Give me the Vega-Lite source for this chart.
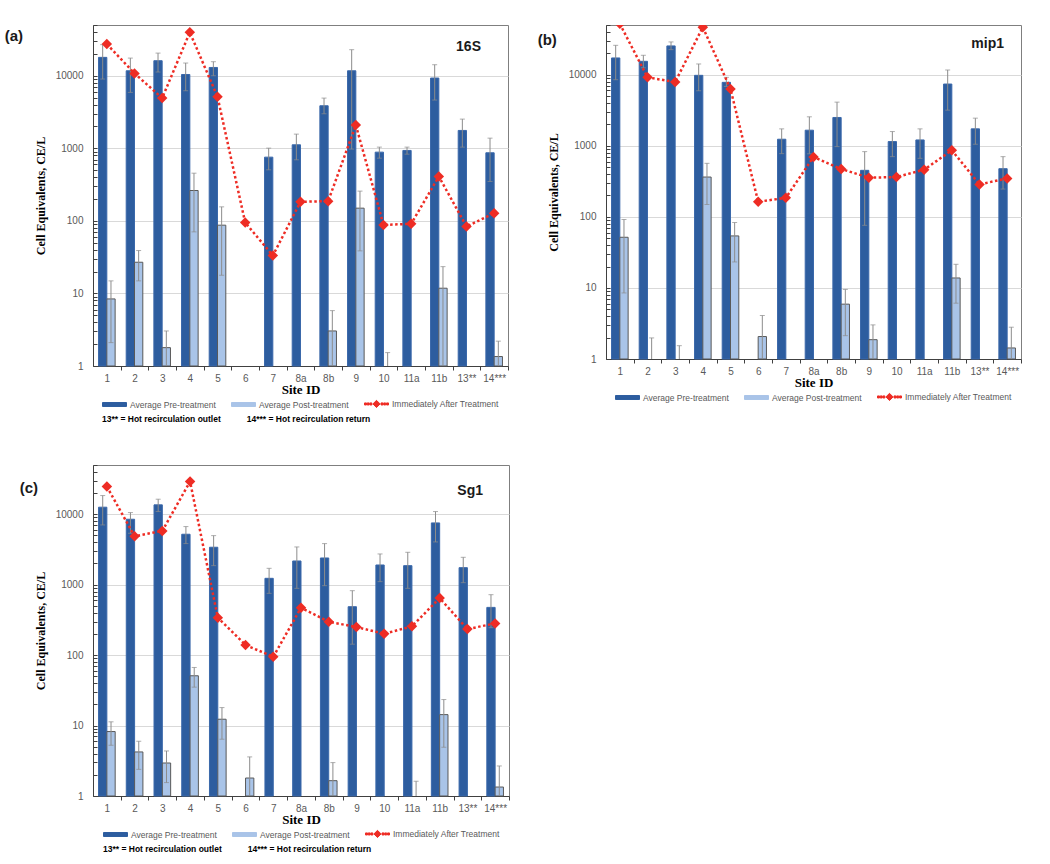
{
 "$schema": "https://vega.github.io/schema/vega-lite/v6.json",
 "padding": {"left": 4, "top": 19, "right": 5, "bottom": 4},
 "background": "white",
 "config": {
  "font": "Liberation Sans",
  "view": {"stroke": "#7F7F7F", "strokeWidth": 1},
  "title": {"font": "Liberation Sans", "fontWeight": "bold", "color": "#1A1A1A"},
  "legend": {"layout": {"bottom": {"anchor": "middle"}}}
 },
 "datasets": {
  "a": [
   {"site":"1","series":"pre","value":17900,"low":9000,"high":26800},
   {"site":"1","series":"post","value":8.4,"low":2.1,"high":14.9},
   {"site":"1","series":"after","value":27300},
   {"site":"2","series":"pre","value":11700,"low":5890,"high":17500},
   {"site":"2","series":"post","value":26.9,"low":14.9,"high":39},
   {"site":"2","series":"after","value":10770},
   {"site":"3","series":"pre","value":16100,"low":11240,"high":20500},
   {"site":"3","series":"post","value":1.79,"low":1,"high":3.04},
   {"site":"3","series":"after","value":4920},
   {"site":"4","series":"pre","value":10400,"low":6210,"high":14960},
   {"site":"4","series":"post","value":262,"low":70.5,"high":454},
   {"site":"4","series":"after","value":39600},
   {"site":"5","series":"pre","value":13000,"low":10000,"high":15600},
   {"site":"5","series":"post","value":87.2,"low":17.8,"high":156},
   {"site":"5","series":"after","value":5130},
   {"site":"6","series":"after","value":94.8},
   {"site":"7","series":"pre","value":755,"low":505,"high":1005},
   {"site":"7","series":"after","value":33.2},
   {"site":"8a","series":"pre","value":1117,"low":694,"high":1568},
   {"site":"8a","series":"after","value":183},
   {"site":"8b","series":"pre","value":3855,"low":2990,"high":4920},
   {"site":"8b","series":"post","value":3.04,"low":1,"high":5.8},
   {"site":"8b","series":"after","value":187},
   {"site":"9","series":"pre","value":11700,"low":975,"high":22840},
   {"site":"9","series":"post","value":149.6,"low":38.6,"high":257},
   {"site":"9","series":"after","value":2088},
   {"site":"10","series":"pre","value":885,"low":731,"high":1038},
   {"site":"10","series":"post","value":null,"low":1,"high":1.53},
   {"site":"10","series":"after","value":88},
   {"site":"11a","series":"pre","value":934,"low":830,"high":1038},
   {"site":"11a","series":"after","value":91},
   {"site":"11b","series":"pre","value":9290,"low":4620,"high":14180},
   {"site":"11b","series":"post","value":11.8,"low":1,"high":23.4},
   {"site":"11b","series":"after","value":409},
   {"site":"13**","series":"pre","value":1762,"low":1038,"high":2525},
   {"site":"13**","series":"after","value":83.5},
   {"site":"14***","series":"pre","value":867,"low":349,"high":1380},
   {"site":"14***","series":"post","value":1.35,"low":1,"high":2.2},
   {"site":"14***","series":"after","value":127.6}
  ],
  "b": [
   {"site":"1","series":"pre","value":17200,"low":8500,"high":25900},
   {"site":"1","series":"post","value":51.6,"low":8.5,"high":91.7},
   {"site":"1","series":"after","value":52000},
   {"site":"2","series":"pre","value":15420,"low":12500,"high":18750},
   {"site":"2","series":"post","value":null,"low":1,"high":1.98},
   {"site":"2","series":"after","value":9170},
   {"site":"3","series":"pre","value":25400,"low":22500,"high":28900},
   {"site":"3","series":"post","value":null,"low":1,"high":1.54},
   {"site":"3","series":"after","value":7880},
   {"site":"4","series":"pre","value":9790,"low":5940,"high":14150},
   {"site":"4","series":"post","value":363,"low":149,"high":566},
   {"site":"4","series":"after","value":46600},
   {"site":"5","series":"pre","value":7800,"low":6840,"high":9170},
   {"site":"5","series":"post","value":53.9,"low":23.2,"high":83.2},
   {"site":"5","series":"after","value":6280},
   {"site":"6","series":"post","value":2.07,"low":1,"high":4.09},
   {"site":"6","series":"after","value":163},
   {"site":"7","series":"pre","value":1236,"low":775,"high":1729},
   {"site":"7","series":"after","value":185},
   {"site":"8a","series":"pre","value":1656,"low":770,"high":2555},
   {"site":"8a","series":"after","value":696},
   {"site":"8b","series":"pre","value":2500,"low":973,"high":4110},
   {"site":"8b","series":"post","value":5.91,"low":2.13,"high":9.52},
   {"site":"8b","series":"after","value":471},
   {"site":"9","series":"pre","value":451,"low":76,"high":827},
   {"site":"9","series":"post","value":1.87,"low":1,"high":3.02},
   {"site":"9","series":"after","value":355},
   {"site":"10","series":"pre","value":1145,"low":703,"high":1585},
   {"site":"10","series":"after","value":363},
   {"site":"11a","series":"pre","value":1208,"low":666,"high":1729},
   {"site":"11a","series":"after","value":461},
   {"site":"11b","series":"pre","value":7385,"low":3170,"high":11640},
   {"site":"11b","series":"post","value":13.8,"low":6.1,"high":21.5},
   {"site":"11b","series":"after","value":864},
   {"site":"13**","series":"pre","value":1729,"low":1050,"high":2445},
   {"site":"13**","series":"after","value":286},
   {"site":"14***","series":"pre","value":476,"low":246,"high":703},
   {"site":"14***","series":"post","value":1.43,"low":1,"high":2.8},
   {"site":"14***","series":"after","value":347}
  ],
  "c": [
   {"site":"1","series":"pre","value":12590,"low":7050,"high":18420},
   {"site":"1","series":"post","value":8.22,"low":5.25,"high":11.3},
   {"site":"1","series":"after","value":24720},
   {"site":"2","series":"pre","value":8490,"low":5370,"high":10560},
   {"site":"2","series":"post","value":4.22,"low":2.39,"high":5.99},
   {"site":"2","series":"after","value":4865},
   {"site":"3","series":"pre","value":13580,"low":10920,"high":16340},
   {"site":"3","series":"post","value":2.94,"low":1.55,"high":4.36},
   {"site":"3","series":"after","value":5800},
   {"site":"4","series":"pre","value":5200,"low":3830,"high":6680},
   {"site":"4","series":"post","value":50.9,"low":35.1,"high":66.8},
   {"site":"4","series":"after","value":29130},
   {"site":"5","series":"pre","value":3400,"low":1863,"high":4970},
   {"site":"5","series":"post","value":12.3,"low":6.4,"high":18.0},
   {"site":"5","series":"after","value":340},
   {"site":"6","series":"post","value":1.8,"low":1,"high":3.59},
   {"site":"6","series":"after","value":139},
   {"site":"7","series":"pre","value":1231,"low":753,"high":1707},
   {"site":"7","series":"after","value":94.7},
   {"site":"8a","series":"pre","value":2170,"low":887,"high":3433},
   {"site":"8a","series":"after","value":471},
   {"site":"8b","series":"pre","value":2393,"low":968,"high":3830},
   {"site":"8b","series":"post","value":1.65,"low":1,"high":2.98},
   {"site":"8b","series":"after","value":298},
   {"site":"9","series":"pre","value":487,"low":143,"high":822},
   {"site":"9","series":"after","value":250},
   {"site":"10","series":"pre","value":1903,"low":1104,"high":2730},
   {"site":"10","series":"after","value":201},
   {"site":"11a","series":"pre","value":1863,"low":887,"high":2883},
   {"site":"11a","series":"post","value":null,"low":1,"high":1.62},
   {"site":"11a","series":"after","value":256},
   {"site":"11b","series":"pre","value":7530,"low":4043,"high":10920},
   {"site":"11b","series":"post","value":14.3,"low":4.92,"high":23.4},
   {"site":"11b","series":"after","value":646},
   {"site":"13**","series":"pre","value":1745,"low":1068,"high":2447},
   {"site":"13**","series":"after","value":234},
   {"site":"14***","series":"pre","value":476,"low":245,"high":721},
   {"site":"14***","series":"post","value":1.34,"low":1,"high":2.67},
   {"site":"14***","series":"after","value":282}
  ]
 },
 "spacing": 34,
 "resolve": {"scale": {"color": "independent", "xOffset": "independent"}, "legend": {"color": "independent"}},
 "vconcat": [
  {
   "spacing": 28,
   "resolve": {"scale": {"color": "independent", "xOffset": "independent"}, "legend": {"color": "independent"}},
   "hconcat": [
    {
     "title": {"text": "(a)", "anchor": "start", "frame": "bounds", "dx": -29, "offset": -24, "fontSize": 15},
     "resolve": {"scale": {"color": "independent", "xOffset": "independent"}, "legend": {"color": "independent"}},
     "vconcat": [
      {
       "width": 415, "height": 341,
       "data": {"name": "a"},
       "title": {"text": "16S", "anchor": "end", "frame": "group", "dx": -27, "offset": -34, "fontSize": 14},
       "encoding": {
        "x": {"field": "site", "type": "nominal", "title": "Site ID",
         "scale": {"domain": ["1","2","3","4","5","6","7","8a","8b","9","10","11a","11b","13**","14***"], "paddingInner": 0.4, "paddingOuter": 0.2},
         "axis": {"labelAngle": 0, "labelFontSize": 10, "labelColor": "#595959", "labelPadding": 3, "tickSize": 4, "tickColor": "#404040", "tickOffset": 13.83, "labelOffset": -13.83, "domainColor": "#404040", "grid": false, "titleFont": "Liberation Serif", "titleFontWeight": "bold", "titleFontSize": 13, "titleColor": "#000000", "titlePadding": 0}}
       },
       "layer": [
        {
         "transform": [{"filter": "datum.series !== 'after'"}],
         "mark": {"type": "bar", "strokeWidth": 1},
         "encoding": {
          "xOffset": {"field": "series", "type": "nominal", "scale": {"domain": ["pre","post"], "paddingInner": 0, "paddingOuter": 0}},
          "y": {"field": "value", "type": "quantitative", "title": "Cell Equivalents, CE/L",
           "scale": {"type": "log", "domain": [1, 50000], "nice": false},
           "axis": {"values": [1,2,3,4,5,6,7,8,9,10,20,30,40,50,60,70,80,90,100,200,300,400,500,600,700,800,900,1000,2000,3000,4000,5000,6000,7000,8000,9000,10000,20000,30000,40000,50000],
            "format": "d", "labelExpr": "indexof([1,10,100,1000,10000], datum.value) >= 0 ? datum.label : ''", "labelOverlap": false,
            "tickSize": -4, "tickColor": "#404040", "labelPadding": 14, "labelFontSize": 10, "labelColor": "#595959",
            "gridColor": "#D9D9D9", "gridOpacity": {"condition": {"test": "indexof([10,100,1000,10000], datum.value) >= 0", "value": 1}, "value": 0},
            "domainColor": "#404040", "titleFont": "Liberation Serif", "titleFontWeight": "bold", "titleFontSize": 12, "titleColor": "#000000", "titlePadding": 8}},
          "y2": {"datum": 1},
          "color": {"field": "series", "type": "nominal",
           "scale": {"domain": ["pre","post","after"], "range": ["#2D5D9F","#A9C4E8","#EE2C24"]},
           "legend": {"orient": "bottom", "direction": "horizontal", "offset": 1,
            "title": "13** = Hot recirculation outlet\u00a0\u00a0\u00a0\u00a0\u00a0\u00a0\u00a0\u00a0\u00a0\u00a0\u00a014*** = Hot recirculation return",
            "titleOrient": "bottom", "titleAnchor": "start", "titlePadding": 5, "titleFontSize": 8.5, "titleFontWeight": "bold", "titleColor": "#000000", "titleLimit": 500,
            "labelExpr": "datum.value === 'pre' ? 'Average Pre-treatment' : datum.value === 'post' ? 'Average Post-treatment' : 'Immediately After Treatment'",
            "labelFontSize": 8.5, "labelColor": "#595959", "labelOffset": 15, "labelLimit": 200, "columnPadding": 13, "symbolSize": 144,
            "symbolType": "M-1,-0.33H3V0.33H-1Z",
            "encoding": {"symbols": {
             "shape": {"condition": {"test": "datum.value === 'after'", "value": "M-1,-0.17h0.33v0.34h-0.33z M-0.55,-0.17h0.33v0.34h-0.33z M-0.1,-0.17h0.33v0.34h-0.33z M1,-0.6L1.6,0L1,0.6L0.4,0z M1.75,-0.17h0.33v0.34h-0.33z M2.2,-0.17h0.33v0.34h-0.33z M2.67,-0.17h0.33v0.34h-0.33z"}, "value": "M-1,-0.33H3V0.33H-1Z"},
             "stroke": {"condition": {"test": "datum.value === 'post'", "value": "#595959"}, "value": "transparent"},
             "strokeWidth": {"value": 1}}}}},
          "stroke": {"condition": {"test": "datum.series === 'post'", "value": "#595959"}, "value": "#3A68AA"}
         }
        },
        {
         "transform": [{"filter": "isValid(datum.high)"}],
         "mark": {"type": "rule", "color": "#8C8C8C", "strokeWidth": 1},
         "encoding": {
          "xOffset": {"field": "series", "type": "nominal", "scale": {"domain": ["pre","post"], "paddingInner": 0, "paddingOuter": 0}},
          "y": {"field": "low", "type": "quantitative", "title": "Cell Equivalents, CE/L"},
          "y2": {"field": "high"}
         }
        },
        {
         "transform": [{"filter": "isValid(datum.high)"}],
         "mark": {"type": "tick", "color": "#8C8C8C", "thickness": 1, "size": 5},
         "encoding": {
          "xOffset": {"field": "series", "type": "nominal", "scale": {"domain": ["pre","post"], "paddingInner": 0, "paddingOuter": 0}},
          "y": {"field": "high", "type": "quantitative", "title": "Cell Equivalents, CE/L"}
         }
        },
        {
         "transform": [{"filter": "isValid(datum.low) && datum.low > 1"}],
         "mark": {"type": "tick", "color": "#8C8C8C", "thickness": 1, "size": 5},
         "encoding": {
          "xOffset": {"field": "series", "type": "nominal", "scale": {"domain": ["pre","post"], "paddingInner": 0, "paddingOuter": 0}},
          "y": {"field": "low", "type": "quantitative", "title": "Cell Equivalents, CE/L"}
         }
        },
        {
         "transform": [{"filter": "datum.series === 'after'"}],
         "mark": {"type": "line", "strokeDash": [2.5, 2.5], "strokeWidth": 2.5, "clip": true},
         "encoding": {
          "y": {"field": "value", "type": "quantitative", "title": "Cell Equivalents, CE/L"},
          "color": {"field": "series", "type": "nominal"}
         }
        },
        {
         "transform": [{"filter": "datum.series === 'after'"}],
         "mark": {"type": "point", "shape": "diamond", "filled": true, "size": 110, "opacity": 1, "clip": true},
         "encoding": {
          "y": {"field": "value", "type": "quantitative", "title": "Cell Equivalents, CE/L"},
          "color": {"field": "series", "type": "nominal"}
         }
        }
       ]
      }
     ]
    },
    {
     "title": {"text": "(b)", "anchor": "start", "frame": "bounds", "dx": -9, "offset": -28, "fontSize": 15},
     "resolve": {"scale": {"color": "independent", "xOffset": "independent"}, "legend": {"color": "independent"}},
     "vconcat": [
      {
       "width": 415, "height": 334,
       "data": {"name": "b"},
       "title": {"text": "mip1", "anchor": "end", "frame": "group", "dx": -17, "offset": -31, "fontSize": 14},
       "encoding": {
        "x": {"field": "site", "type": "nominal", "title": "Site ID",
         "scale": {"domain": ["1","2","3","4","5","6","7","8a","8b","9","10","11a","11b","13**","14***"], "paddingInner": 0.4, "paddingOuter": 0.2},
         "axis": {"labelAngle": 0, "labelFontSize": 10, "labelColor": "#595959", "labelPadding": 3, "tickSize": 4, "tickColor": "#404040", "tickOffset": 13.83, "labelOffset": -13.83, "domainColor": "#404040", "grid": false, "titleFont": "Liberation Serif", "titleFontWeight": "bold", "titleFontSize": 13, "titleColor": "#000000", "titlePadding": 0}}
       },
       "layer": [
        {
         "transform": [{"filter": "datum.series !== 'after'"}],
         "mark": {"type": "bar", "strokeWidth": 1},
         "encoding": {
          "xOffset": {"field": "series", "type": "nominal", "scale": {"domain": ["pre","post"], "paddingInner": 0, "paddingOuter": 0}},
          "y": {"field": "value", "type": "quantitative", "title": "Cell Equivalents, CE/L",
           "scale": {"type": "log", "domain": [1, 50000], "nice": false},
           "axis": {"values": [1,2,3,4,5,6,7,8,9,10,20,30,40,50,60,70,80,90,100,200,300,400,500,600,700,800,900,1000,2000,3000,4000,5000,6000,7000,8000,9000,10000,20000,30000,40000,50000],
            "format": "d", "labelExpr": "indexof([1,10,100,1000,10000], datum.value) >= 0 ? datum.label : ''", "labelOverlap": false,
            "tickSize": -4, "tickColor": "#404040", "labelPadding": 14, "labelFontSize": 10, "labelColor": "#595959",
            "gridColor": "#D9D9D9", "gridOpacity": {"condition": {"test": "indexof([10,100,1000,10000], datum.value) >= 0", "value": 1}, "value": 0},
            "domainColor": "#404040", "titleFont": "Liberation Serif", "titleFontWeight": "bold", "titleFontSize": 12, "titleColor": "#000000", "titlePadding": 8}},
          "y2": {"datum": 1},
          "color": {"field": "series", "type": "nominal",
           "scale": {"domain": ["pre","post","after"], "range": ["#2D5D9F","#A9C4E8","#EE2C24"]},
           "legend": {"orient": "bottom", "direction": "horizontal", "offset": 1, "title": null,
            "labelExpr": "datum.value === 'pre' ? 'Average Pre-treatment' : datum.value === 'post' ? 'Average Post-treatment' : 'Immediately After Treatment'",
            "labelFontSize": 8.5, "labelColor": "#595959", "labelOffset": 15, "labelLimit": 200, "columnPadding": 13, "symbolSize": 144,
            "symbolType": "M-1,-0.33H3V0.33H-1Z",
            "encoding": {"symbols": {
             "shape": {"condition": {"test": "datum.value === 'after'", "value": "M-1,-0.17h0.33v0.34h-0.33z M-0.55,-0.17h0.33v0.34h-0.33z M-0.1,-0.17h0.33v0.34h-0.33z M1,-0.6L1.6,0L1,0.6L0.4,0z M1.75,-0.17h0.33v0.34h-0.33z M2.2,-0.17h0.33v0.34h-0.33z M2.67,-0.17h0.33v0.34h-0.33z"}, "value": "M-1,-0.33H3V0.33H-1Z"},
             "stroke": {"condition": {"test": "datum.value === 'post'", "value": "#595959"}, "value": "transparent"},
             "strokeWidth": {"value": 1}}}}},
          "stroke": {"condition": {"test": "datum.series === 'post'", "value": "#595959"}, "value": "#3A68AA"}
         }
        },
        {
         "transform": [{"filter": "isValid(datum.high)"}],
         "mark": {"type": "rule", "color": "#8C8C8C", "strokeWidth": 1},
         "encoding": {
          "xOffset": {"field": "series", "type": "nominal", "scale": {"domain": ["pre","post"], "paddingInner": 0, "paddingOuter": 0}},
          "y": {"field": "low", "type": "quantitative", "title": "Cell Equivalents, CE/L"},
          "y2": {"field": "high"}
         }
        },
        {
         "transform": [{"filter": "isValid(datum.high)"}],
         "mark": {"type": "tick", "color": "#8C8C8C", "thickness": 1, "size": 5},
         "encoding": {
          "xOffset": {"field": "series", "type": "nominal", "scale": {"domain": ["pre","post"], "paddingInner": 0, "paddingOuter": 0}},
          "y": {"field": "high", "type": "quantitative", "title": "Cell Equivalents, CE/L"}
         }
        },
        {
         "transform": [{"filter": "isValid(datum.low) && datum.low > 1"}],
         "mark": {"type": "tick", "color": "#8C8C8C", "thickness": 1, "size": 5},
         "encoding": {
          "xOffset": {"field": "series", "type": "nominal", "scale": {"domain": ["pre","post"], "paddingInner": 0, "paddingOuter": 0}},
          "y": {"field": "low", "type": "quantitative", "title": "Cell Equivalents, CE/L"}
         }
        },
        {
         "transform": [{"filter": "datum.series === 'after'"}],
         "mark": {"type": "line", "strokeDash": [2.5, 2.5], "strokeWidth": 2.5, "clip": true},
         "encoding": {
          "y": {"field": "value", "type": "quantitative", "title": "Cell Equivalents, CE/L"},
          "color": {"field": "series", "type": "nominal"}
         }
        },
        {
         "transform": [{"filter": "datum.series === 'after'"}],
         "mark": {"type": "point", "shape": "diamond", "filled": true, "size": 110, "opacity": 1, "clip": true},
         "encoding": {
          "y": {"field": "value", "type": "quantitative", "title": "Cell Equivalents, CE/L"},
          "color": {"field": "series", "type": "nominal"}
         }
        }
       ]
      }
     ]
    }
   ]
  },
  {
   "title": {"text": "(c)", "anchor": "start", "frame": "bounds", "dx": -14, "offset": -36, "fontSize": 15},
   "resolve": {"scale": {"color": "independent", "xOffset": "independent"}, "legend": {"color": "independent"}},
   "vconcat": [
    {
     "width": 416, "height": 331,
     "data": {"name": "c"},
     "title": {"text": "Sg1", "anchor": "end", "frame": "group", "dx": -26, "offset": -38, "fontSize": 14},
     "encoding": {
      "x": {"field": "site", "type": "nominal", "title": "Site ID",
       "scale": {"domain": ["1","2","3","4","5","6","7","8a","8b","9","10","11a","11b","13**","14***"], "paddingInner": 0.4, "paddingOuter": 0.2},
       "axis": {"labelAngle": 0, "labelFontSize": 10, "labelColor": "#595959", "labelPadding": 3, "tickSize": 4, "tickColor": "#404040", "tickOffset": 13.87, "labelOffset": -13.87, "domainColor": "#404040", "grid": false, "titleFont": "Liberation Serif", "titleFontWeight": "bold", "titleFontSize": 13, "titleColor": "#000000", "titlePadding": 0}}
     },
     "layer": [
      {
       "transform": [{"filter": "datum.series !== 'after'"}],
       "mark": {"type": "bar", "strokeWidth": 1},
       "encoding": {
        "xOffset": {"field": "series", "type": "nominal", "scale": {"domain": ["pre","post"], "paddingInner": 0, "paddingOuter": 0}},
        "y": {"field": "value", "type": "quantitative", "title": "Cell Equivalents, CE/L",
         "scale": {"type": "log", "domain": [1, 50000], "nice": false},
         "axis": {"values": [1,2,3,4,5,6,7,8,9,10,20,30,40,50,60,70,80,90,100,200,300,400,500,600,700,800,900,1000,2000,3000,4000,5000,6000,7000,8000,9000,10000,20000,30000,40000,50000],
          "format": "d", "labelExpr": "indexof([1,10,100,1000,10000], datum.value) >= 0 ? datum.label : ''", "labelOverlap": false,
          "tickSize": -4, "tickColor": "#404040", "labelPadding": 14, "labelFontSize": 10, "labelColor": "#595959",
          "gridColor": "#D9D9D9", "gridOpacity": {"condition": {"test": "indexof([10,100,1000,10000], datum.value) >= 0", "value": 1}, "value": 0},
          "domainColor": "#404040", "titleFont": "Liberation Serif", "titleFontWeight": "bold", "titleFontSize": 12, "titleColor": "#000000", "titlePadding": 8}},
        "y2": {"datum": 1},
        "color": {"field": "series", "type": "nominal",
         "scale": {"domain": ["pre","post","after"], "range": ["#2D5D9F","#A9C4E8","#EE2C24"]},
         "legend": {"orient": "bottom", "direction": "horizontal", "offset": 1,
          "title": "13** = Hot recirculation outlet\u00a0\u00a0\u00a0\u00a0\u00a0\u00a0\u00a0\u00a0\u00a0\u00a0\u00a014*** = Hot recirculation return",
          "titleOrient": "bottom", "titleAnchor": "start", "titlePadding": 5, "titleFontSize": 8.5, "titleFontWeight": "bold", "titleColor": "#000000", "titleLimit": 500,
          "labelExpr": "datum.value === 'pre' ? 'Average Pre-treatment' : datum.value === 'post' ? 'Average Post-treatment' : 'Immediately After Treatment'",
          "labelFontSize": 8.5, "labelColor": "#595959", "labelOffset": 15, "labelLimit": 200, "columnPadding": 13, "symbolSize": 144,
          "symbolType": "M-1,-0.33H3V0.33H-1Z",
          "encoding": {"symbols": {
           "shape": {"condition": {"test": "datum.value === 'after'", "value": "M-1,-0.17h0.33v0.34h-0.33z M-0.55,-0.17h0.33v0.34h-0.33z M-0.1,-0.17h0.33v0.34h-0.33z M1,-0.6L1.6,0L1,0.6L0.4,0z M1.75,-0.17h0.33v0.34h-0.33z M2.2,-0.17h0.33v0.34h-0.33z M2.67,-0.17h0.33v0.34h-0.33z"}, "value": "M-1,-0.33H3V0.33H-1Z"},
           "stroke": {"condition": {"test": "datum.value === 'post'", "value": "#595959"}, "value": "transparent"},
           "strokeWidth": {"value": 1}}}}},
        "stroke": {"condition": {"test": "datum.series === 'post'", "value": "#595959"}, "value": "#3A68AA"}
       }
      },
      {
       "transform": [{"filter": "isValid(datum.high)"}],
       "mark": {"type": "rule", "color": "#8C8C8C", "strokeWidth": 1},
       "encoding": {
        "xOffset": {"field": "series", "type": "nominal", "scale": {"domain": ["pre","post"], "paddingInner": 0, "paddingOuter": 0}},
        "y": {"field": "low", "type": "quantitative", "title": "Cell Equivalents, CE/L"},
        "y2": {"field": "high"}
       }
      },
      {
       "transform": [{"filter": "isValid(datum.high)"}],
       "mark": {"type": "tick", "color": "#8C8C8C", "thickness": 1, "size": 5},
       "encoding": {
        "xOffset": {"field": "series", "type": "nominal", "scale": {"domain": ["pre","post"], "paddingInner": 0, "paddingOuter": 0}},
        "y": {"field": "high", "type": "quantitative", "title": "Cell Equivalents, CE/L"}
       }
      },
      {
       "transform": [{"filter": "isValid(datum.low) && datum.low > 1"}],
       "mark": {"type": "tick", "color": "#8C8C8C", "thickness": 1, "size": 5},
       "encoding": {
        "xOffset": {"field": "series", "type": "nominal", "scale": {"domain": ["pre","post"], "paddingInner": 0, "paddingOuter": 0}},
        "y": {"field": "low", "type": "quantitative", "title": "Cell Equivalents, CE/L"}
       }
      },
      {
       "transform": [{"filter": "datum.series === 'after'"}],
       "mark": {"type": "line", "strokeDash": [2.5, 2.5], "strokeWidth": 2.5, "clip": true},
       "encoding": {
        "y": {"field": "value", "type": "quantitative", "title": "Cell Equivalents, CE/L"},
        "color": {"field": "series", "type": "nominal"}
       }
      },
      {
       "transform": [{"filter": "datum.series === 'after'"}],
       "mark": {"type": "point", "shape": "diamond", "filled": true, "size": 110, "opacity": 1, "clip": true},
       "encoding": {
        "y": {"field": "value", "type": "quantitative", "title": "Cell Equivalents, CE/L"},
        "color": {"field": "series", "type": "nominal"}
       }
      }
     ]
    }
   ]
  }
 ]
}
